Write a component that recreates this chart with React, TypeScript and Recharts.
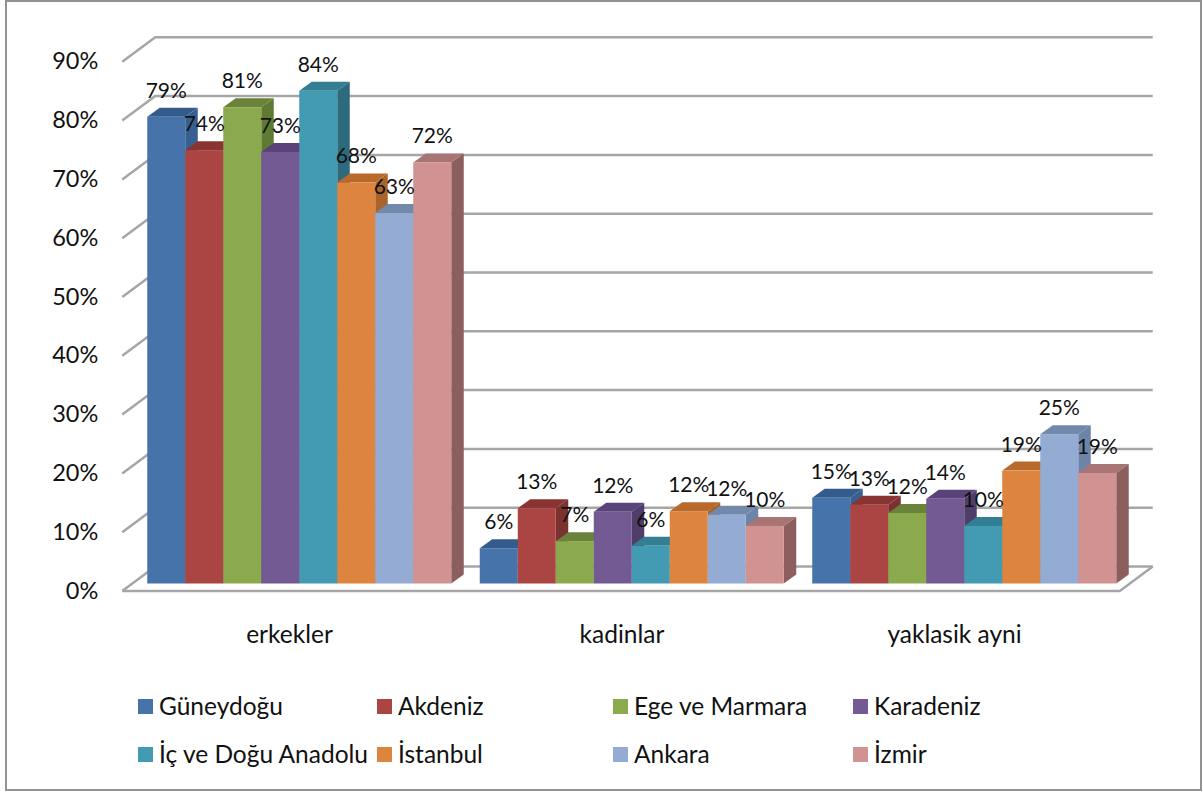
import React from 'react';
import { BarChart, Bar, XAxis, YAxis, CartesianGrid, Legend, LabelList } from 'recharts';

const categories = ['erkekler', 'kadinlar', 'yaklasik ayni'];
const seriesNames = ['Güneydoğu', 'Akdeniz', 'Ege ve Marmara', 'Karadeniz', 'İç ve Doğu Anadolu', 'İstanbul', 'Ankara', 'İzmir'];

const guneydogu = [79.4, 6.0, 14.6];
const akdeniz = [73.7, 12.8, 13.4];
const egeMarmara = [81.0, 7.2, 12.0];
const karadeniz = [73.4, 12.2, 14.4];
const icDogu = [83.8, 6.4, 9.8];
const istanbul = [68.2, 12.3, 19.2];
const ankara = [63.0, 11.7, 25.4];
const izmir = [71.6, 9.8, 18.8];

const seriesValues = [guneydogu, akdeniz, egeMarmara, karadeniz, icDogu, istanbul, ankara, izmir];
const yTicks = [0, 10, 20, 30, 40, 50, 60, 70, 80, 90];

const fronts = ['#4674aa', '#ab4543', '#8ba94d', '#735a93', '#429ab3', '#dd843e', '#94abd3', '#d19391'];
const tops = ['#335c8c', '#893433', '#6a8239', '#59437a', '#337e93', '#b96a2a', '#7389ac', '#a97574'];
const sides = ['#375f8f', '#7b3130', '#5f7a33', '#4f3d6a', '#2e6a7e', '#a8642a', '#6c84a8', '#8c5f5e'];

const chartData = categories.map((name, c) => {
  const row: Record<string, string | number> = { name };
  seriesNames.forEach((s, i) => {
    row[s] = seriesValues[i][c];
  });
  return row;
});

const FONT = 'Lato, "Open Sans", sans-serif';
const GRID = '#a6a6a6';
// offsets of the fake 3d planes, relative to the front of the bars
const DEPTH_X = 12.5;
const DEPTH_Y = 9;
const WALL_X = 22;
const WALL_Y = 17;
const FLOOR_X = 11;
const FLOOR_Y = 7.5;

const Bar3D = (props: any) => {
  const { x, y, width, height, fill, topFill, sideFill } = props;
  const r = x + width;
  const b = y + height;
  return (
    <g>
      <polygon points={`${x},${y} ${x + DEPTH_X},${y - DEPTH_Y} ${r + DEPTH_X},${y - DEPTH_Y} ${r},${y}`} fill={topFill} />
      <polygon points={`${r},${y} ${r + DEPTH_X},${y - DEPTH_Y} ${r + DEPTH_X},${b - DEPTH_Y} ${r},${b}`} fill={sideFill} />
      <rect x={x} y={y} width={width} height={height} fill={fill} />
    </g>
  );
};

const GridLine = (props: any) => {
  const { x1, x2, y1, key } = props;
  const left = x1 - FLOOR_X;
  const right = x2 - FLOOR_X;
  const isFloor = y1 > 580;
  const line = { stroke: GRID, strokeWidth: 2.5, fill: 'none' };
  return (
    <g key={key ?? y1}>
      <polyline points={`${left},${y1 + FLOOR_Y} ${x1 + WALL_X},${y1 - WALL_Y} ${x2 + WALL_X},${y1 - WALL_Y}`} {...line} />
      {isFloor && (
        <polyline points={`${left},${y1 + FLOOR_Y} ${right},${y1 + FLOOR_Y} ${x2 + WALL_X},${y1 - WALL_Y}`} {...line} />
      )}
    </g>
  );
};

const YTick = (props: any) => (
  <text x={props.x - 27} y={props.y + 15} textAnchor="end" fontFamily={FONT} fontSize={23.5} fill="#111">
    {props.payload.value}%
  </text>
);

const XTick = (props: any) => (
  <text x={props.x - 10} y={props.y + 51} textAnchor="middle" fontFamily={FONT} fontSize={24.5} fill="#111">
    {props.payload.value}
  </text>
);

const LegendGrid = (props: any) => (
  <div style={{ display: 'grid', gridTemplateColumns: '239px 236px 240px 240px', rowGap: 22, fontFamily: FONT, fontSize: 24.5, color: '#111', lineHeight: '26px' }}>
    {props.payload.map((item: any) => (
      <div key={item.value} style={{ display: 'flex', alignItems: 'center', whiteSpace: 'nowrap' }}>
        <span style={{ display: 'inline-block', width: 15, height: 15, background: item.color, marginRight: 6 }} />
        {item.value}
      </div>
    ))}
  </div>
);

export default function App() {
  return (
    <div style={{ position: 'absolute', left: 0, top: 0, width: 1203, height: 793, background: '#fff' }}>
      <div style={{ position: 'absolute', left: 5, top: 0, width: 1197, height: 791, boxSizing: 'border-box', border: '2.5px solid #929292' }} />
      <BarChart
        width={1203}
        height={793}
        data={chartData}
        margin={{ top: 54.3, right: 72.25, bottom: 149.5, left: 83.25 }}
        barCategoryGap={14}
        barGap={0}
      >
        <CartesianGrid vertical={false} horizontal={(p: any) => <GridLine {...p} />} />
        <XAxis dataKey="name" height={60} axisLine={false} tickLine={false} tick={<XTick />} interval={0} />
        <YAxis width={50} domain={[0, 90]} ticks={yTicks} axisLine={false} tickLine={false} tick={<YTick />} interval={0} />
        <Legend
          layout="horizontal"
          verticalAlign="middle"
          itemSorter={null}
          content={<LegendGrid />}
          wrapperStyle={{ left: 138, top: 693, width: 1000 }}
        />
        {seriesNames.map((s, i) => (
          <Bar
            key={s}
            dataKey={s}
            fill={fronts[i]}
            isAnimationActive={false}
            shape={(p: any) => <Bar3D {...p} topFill={tops[i]} sideFill={sides[i]} />}
          >
            <LabelList
              dataKey={s}
              position="top"
              offset={19}
              formatter={(v: any) => `${Math.round(v)}%`}
              style={{ fontFamily: FONT, fontSize: 21, fill: '#111' }}
            />
          </Bar>
        ))}
      </BarChart>
    </div>
  );
}
